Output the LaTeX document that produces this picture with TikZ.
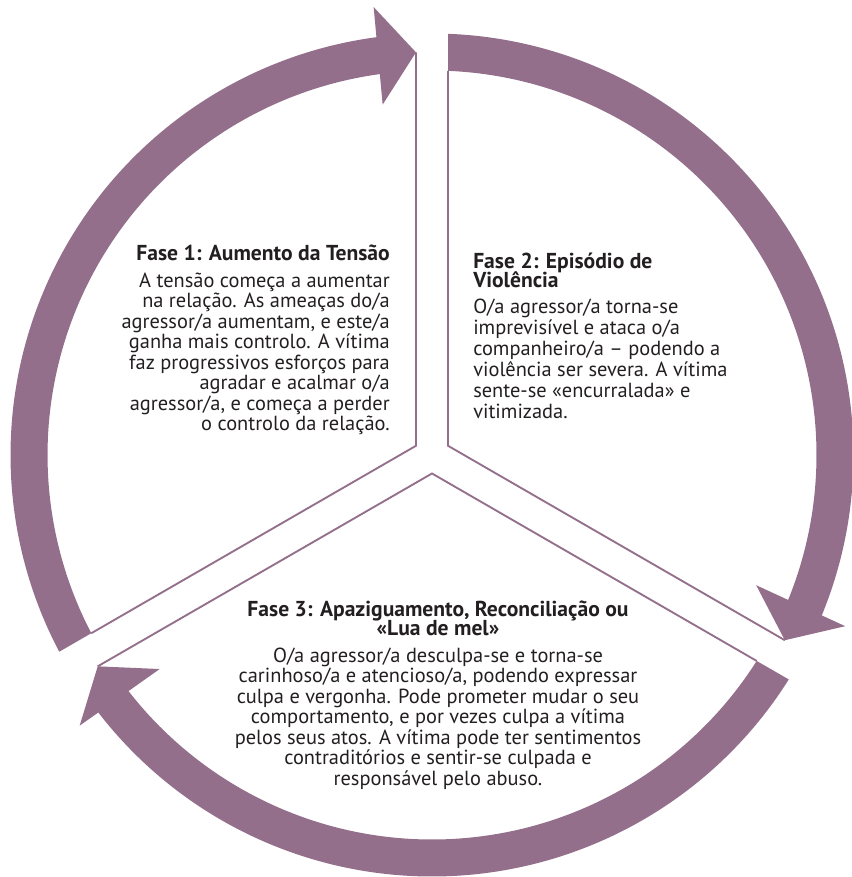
\documentclass[tikz,border=0pt]{standalone}
\usepackage{fontspec}
\setmainfont{PT Sans}
\usetikzlibrary{calc}
\definecolor{cyc}{RGB}{148,111,139}
\definecolor{ink}{RGB}{35,31,32}

% One phase of the cycle: thick arc with arrow head plus its two thin edges.
% #1 start edge angle, #2 tip angle, #3 tip radius, #4 corner angle, #5 prefix
\newcommand\cyclephase[5]{%
  \coordinate (#5c) at ($(C)+(#4:18.475)$);
  \coordinate (#5s) at ($(C)+({#1+2.385}:384.5)$);
  \coordinate (#5t) at ($(C)+(#2:#3)$);
  \coordinate (#5b) at ($(#5t)+({#2-93}:38)$);
  \coordinate (#5u) at ($(#5b)+({#2-3}:49)$);
  \coordinate (#5v) at ($(#5b)+({#2+177}:49)$);
  \fill[band] ($(C)+({#1+2.176}:421.5)$)
    arc[start angle={#1+2.176}, end angle={#2-5}, radius=421.5]
    -- ($(C)+({#2-5}:384.5)$)
    arc[start angle={#2-5}, end angle={#1+2.385}, radius=384.5] -- cycle;
  \fill[band] (#5t) -- (#5u) -- (#5v) -- cycle;
  \draw[edge] (#5s) -- (#5c) -- (#5t);
}

\begin{document}
\begin{tikzpicture}[x=0.75pt,y=-0.75pt,
  band/.style={fill=cyc, draw=none},
  edge/.style={draw=cyc, line width=1.4pt, line join=miter},
  ttl/.style={font={\bfseries\fontsize{16.2}{14}\selectfont\lineskiplimit=-20pt},
    text=ink, inner sep=0pt},
  txt/.style={font=\fontsize{15.3}{17}\selectfont, text=ink, inner sep=0pt}]
\useasboundingbox (0,0) rectangle (851,877);
\coordinate (C) at (432,455);

\cyclephase{150}{267.72}{403}{210}{pa}
\cyclephase{270}{387.7}{398.5}{330}{pb}
\cyclephase{30}{147.7}{395.5}{90}{pc}

% Phase 1
\node[ttl, anchor=base east] (h1) at (390,260) {Fase 1: Aumento da Tensão};
\foreach \l [count=\i] in {A tensão começa a aumentar, na relação. As ameaças do/a,
  {agressor/a aumentam, e este/a}, ganha mais controlo. A vítima,
  faz progressivos esforços para, agradar e acalmar o/a,
  {agressor/a, e começa a perder}, o controlo da relação.}
  \node[txt, anchor=base east] (p1l\i) at (390,{287+20.5*(\i-1)}) {\l};

% Phase 2 (base anchor sits on the last title line)
\node[ttl, align=left, anchor=base west] (h2) at (473,287)
  {Fase 2: Episódio de\\Violência};
\foreach \l [count=\i] in {O/a agressor/a torna-se, imprevisível e ataca o/a,
  companheiro/a – podendo a, violência ser severa. A vítima,
  sente-se «encurralada» e, vitimizada.}
  \node[txt, anchor=base west] (p2l\i) at (473,{313+21*(\i-1)}) {\l};

% Phase 3
\node[ttl, align=center, anchor=base] (h3) at (438,635)
  {Fase 3: Apaziguamento, Reconciliação ou\\«Lua de mel»};
\foreach \l [count=\i] in {O/a agressor/a desculpa-se e torna-se,
  {carinhoso/a e atencioso/a, podendo expressar},
  culpa e vergonha. Pode prometer mudar o seu,
  {comportamento, e por vezes culpa a vítima},
  pelos seus atos. A vítima pode ter sentimentos,
  contraditórios e sentir-se culpada e,
  responsável pelo abuso.}
  \node[txt, anchor=base] (p3l\i) at (438,{662+20.5*(\i-1)}) {\l};
\end{tikzpicture}
\end{document}
